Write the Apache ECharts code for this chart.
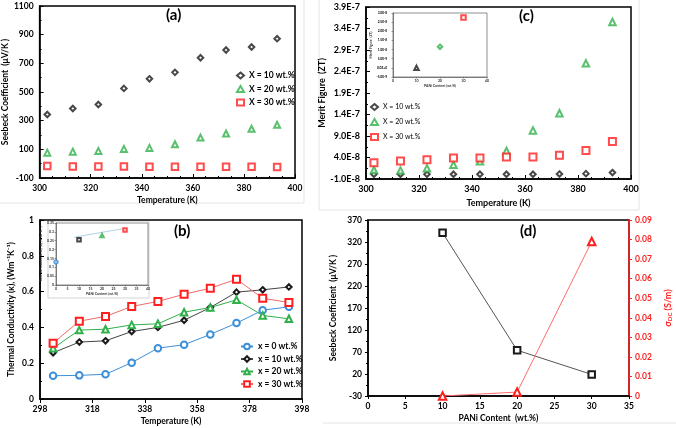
<!DOCTYPE html>
<html>
<head>
<meta charset="utf-8">
<script src="https://cdn.jsdelivr.net/npm/echarts@6/dist/echarts.min.js"></script>
<style>html,body{margin:0;padding:0;background:#fff}#c{width:676px;height:428px}</style>
</head>
<body>
<div id="c"></div>
<script>
// ---------- data ----------
const temps = [303, 313, 323, 333, 343, 353, 363, 373, 383, 393];
// (a) Seebeck coefficient (µV/K)
const seebeck10 = [343, 385, 413, 525, 592, 637, 739, 793, 814, 872];
const seebeck20 = [77, 84, 89, 103, 110, 135, 182, 210, 243, 271];
const seebeck30 = [-16, -20, -20, -20, -21, -21, -21, -22, -22, -24];
// (c) Merit figure ZT, in units of 1E-8
const zt10 = [0.1, 0.1, 0.1, 0.1, 0.1, 0.1, 0.1, 0.15, 0.25, 0.5];
const zt20 = [1.1, 1.0, 1.5, 2.3, 3.1, 5.5, 10.3, 14.3, 25.9, 35.5];
const zt30 = [2.8, 3.2, 3.5, 3.9, 3.9, 4.1, 4.1, 4.5, 5.65, 7.7];
// (c) inset: ZT vs PANi content (units 1E-8)
const ztInsetX = [10, 20, 30];
const ztInsetY = [0.0, 1.15, 2.75];
// (b) thermal conductivity
const k0 = [0.130, 0.132, 0.138, 0.203, 0.284, 0.303, 0.361, 0.424, 0.496, 0.515];
const k10 = [0.258, 0.318, 0.325, 0.377, 0.400, 0.440, 0.511, 0.597, 0.610, 0.626];
const k20 = [0.284, 0.385, 0.390, 0.414, 0.420, 0.485, 0.511, 0.554, 0.467, 0.448];
const k30 = [0.312, 0.435, 0.461, 0.517, 0.545, 0.585, 0.619, 0.669, 0.563, 0.539];
// (b) inset: kappa vs PANi content
const kInsetX = [0, 10, 20, 30];
const kInsetY = [0.13, 0.255, 0.28, 0.31];
const kFitX = [8, 30];
const kFitY = [0.27, 0.32];
// (d) Seebeck and sigma_DC vs PANi content
const pani = [10, 20, 30];
const seebeckPani = [341, 74, 19];
const sigmaDC = [0, 0.002, 0.079];

// ---------- styles ----------
const FONT = 'Lato';
const BLACK = '#1a1a1a', GREEN = '#2fb04a', RED = '#ff1f1f', BLUE = '#3d8fd9';
const zip = (xs, ys) => xs.map((x, i) => [x, ys[i]]);
const expFmt = v => (v * 1e-8).toExponential(1).toUpperCase();
const plainFmt = v => String(v);

function axis(grid, o) {
  const a = {
    gridIndex: grid, type: 'value',
    axisLine: {show: true, onZero: false, lineStyle: {color: '#000', width: 1.5}},
    axisTick: {show: true, inside: true, length: 4, lineStyle: {color: '#000', width: 1}},
    minorTick: {show: true, splitNumber: 2, length: 2, lineStyle: {color: '#000'}},
    splitLine: {show: false},
    axisLabel: {color: '#000', fontSize: 8.5, fontWeight: 'bold', fontFamily: FONT, margin: 6, formatter: plainFmt},
    nameLocation: 'middle',
    nameTextStyle: {color: '#000', fontSize: 8.5, fontWeight: 'bold', fontFamily: FONT}
  };
  for (const k in o) {
    if (a[k] && typeof a[k] === 'object' && typeof o[k] === 'object' && !Array.isArray(o[k])) a[k] = Object.assign({}, a[k], o[k]);
    else a[k] = o[k];
  }
  return a;
}
function tiny(grid, o) {
  return axis(grid, Object.assign({
    axisLine: {show: true, onZero: false, lineStyle: {color: '#444', width: 0.6}},
    axisTick: {show: true, inside: false, length: 1.5, lineStyle: {color: '#444', width: 0.5}},
    minorTick: {show: false},
    axisLabel: {color: '#333', fontSize: 3.5, fontFamily: FONT, margin: 2, formatter: plainFmt},
    nameTextStyle: {color: '#333', fontSize: 3.5, fontFamily: FONT}
  }, o));
}
const scat = (name, xi, yi, data, symbol, color, size) => ({
  name, type: 'scatter', xAxisIndex: xi, yAxisIndex: yi, data, symbol, symbolSize: size,
  itemStyle: {color, borderColor: color, borderWidth: 1.2}, z: 3
});
const lin = (name, xi, yi, data, symbol, color, size, lineColor) => ({
  name, type: 'line', xAxisIndex: xi, yAxisIndex: yi, data, symbol, symbolSize: size,
  showAllSymbol: true,
  lineStyle: {color: lineColor || color, width: 1},
  itemStyle: {color, borderColor: color, borderWidth: 1.2}, z: 3
});

const frame = '#e4e4e4';
const option = {
  animation: false,
  backgroundColor: '#fff',
  textStyle: {fontFamily: FONT},
  title: [
    {text: '(a)', left: 166, top: 8, padding: 0, textStyle: {fontSize: 15, fontWeight: 'bold', color: '#000', fontFamily: FONT}},
    {text: '(c)', left: 519, top: 9, padding: 0, textStyle: {fontSize: 15, fontWeight: 'bold', color: '#000', fontFamily: FONT}},
    {text: '(b)', left: 174, top: 224, padding: 0, textStyle: {fontSize: 15, fontWeight: 'bold', color: '#000', fontFamily: FONT}},
    {text: '(d)', left: 520, top: 224, padding: 0, textStyle: {fontSize: 15, fontWeight: 'bold', color: '#000', fontFamily: FONT}}
  ],
  graphic: [
    {type: 'line', shape: {x1: 304, y1: 0, x2: 304, y2: 203}, style: {stroke: frame, lineWidth: 1}, z: -1},
    {type: 'line', shape: {x1: 0, y1: 203, x2: 304, y2: 203}, style: {stroke: frame, lineWidth: 1}, z: -1},
    {type: 'line', shape: {x1: 319, y1: 0, x2: 319, y2: 210}, style: {stroke: frame, lineWidth: 1}, z: -1},
    {type: 'line', shape: {x1: 319, y1: 210, x2: 639, y2: 210}, style: {stroke: frame, lineWidth: 1}, z: -1},
    {type: 'line', shape: {x1: 639, y1: 0, x2: 639, y2: 210}, style: {stroke: frame, lineWidth: 1}, z: -1},
    {type: 'line', shape: {x1: 323, y1: 423, x2: 676, y2: 423}, style: {stroke: frame, lineWidth: 1}, z: -1},
    {type: 'rect', shape: {x: 48, y: 221, width: 101, height: 77}, style: {fill: 'none', stroke: '#c8c8c8', lineWidth: 0.8}, z: -1}
  ],
  legend: [
    {data: ['X = 10 wt.%', 'X = 20 wt.%', 'X = 30 wt.%'], left: 236, top: 71, orient: 'vertical',
     itemWidth: 7, itemHeight: 6, itemGap: 4.5, textStyle: {fontSize: 8.5, fontWeight: 'bold', color: '#000', fontFamily: FONT}, padding: 0},
    {data: ['X = 10 wt.%', 'X = 20 wt.%', 'X = 30 wt.%'], left: 370, top: 103, orient: 'vertical',
     itemWidth: 7, itemHeight: 6, itemGap: 7, textStyle: {fontSize: 7, color: '#000', fontFamily: FONT}, padding: 0},
    {data: ['x = 0 wt.%', 'x = 10 wt.%', 'x = 20 wt.%', 'x = 30 wt.%'], left: 240, top: 342, orient: 'vertical',
     itemWidth: 12, itemHeight: 7, itemGap: 3.5, textStyle: {fontSize: 8.5, fontWeight: 'bold', color: '#000', fontFamily: FONT}, padding: 0}
  ],
  grid: [
    {left: 39, top: 6, width: 256, height: 172, show: true, borderColor: '#000', borderWidth: 1.5, backgroundColor: 'transparent'},
    {left: 366, top: 7, width: 265, height: 172, show: true, borderColor: '#000', borderWidth: 1.5, backgroundColor: 'transparent'},
    {left: 40, top: 220, width: 262, height: 179, show: true, borderColor: '#000', borderWidth: 1.5, backgroundColor: 'transparent'},
    {left: 368, top: 220, width: 261, height: 176, show: true, borderColor: '#000', borderWidth: 1.5, backgroundColor: 'transparent'},
    {left: 56, top: 223, width: 92, height: 62, show: true, borderColor: '#444', borderWidth: 0.6, backgroundColor: 'transparent'},
    {left: 393, top: 13, width: 94, height: 64, show: true, borderColor: '#444', borderWidth: 0.6, backgroundColor: 'transparent'}
  ],
  xAxis: [
    axis(0, {min: 300, max: 400, interval: 20, name: 'Temperature (K)', nameGap: 18, minorTick: {splitNumber: 4}}),
    axis(1, {min: 300, max: 400, interval: 20, name: 'Temperature (K)', nameGap: 20, minorTick: {splitNumber: 4},
             axisLabel: {fontSize: 9}, nameTextStyle: {fontSize: 9}}),
    axis(2, {min: 298, max: 398, interval: 20, name: 'Temperature (K)', nameGap: 18, axisTick: {inside: false, length: 4}, minorTick: {show: false}}),
    axis(3, {min: 0, max: 35, interval: 5, name: 'PANi Content  (wt.%)', nameGap: 18, axisTick: {inside: false, length: 3}, minorTick: {show: false}}),
    tiny(4, {min: 0, max: 40, interval: 5, name: 'PANi Content (wt.%)', nameGap: 6}),
    tiny(5, {min: 0, max: 40, interval: 10, name: 'PANi Content (wt.%)', nameGap: 6})
  ],
  yAxis: [
    axis(0, {min: -100, max: 1100, interval: 200, name: 'Seebeck Coefficient  (\u03bcV/K )', nameGap: 24}),
    axis(1, {min: -1, max: 39, interval: 5, name: 'Merit Figure  (ZT)', nameGap: 36, axisLabel: {formatter: expFmt, fontSize: 9},
             nameTextStyle: {fontSize: 9}, minorTick: {splitNumber: 2}}),
    axis(2, {min: 0, max: 1, interval: 0.2, name: 'Thermal Conductivity (\u03ba), (Wm\u207b\u00b9K\u207b\u00b9)', nameGap: 24, minorTick: {splitNumber: 2}}),
    axis(3, {min: -30, max: 370, interval: 50, name: 'Seebeck Coefficient  (\u03bcV/K )', nameGap: 30,
             axisTick: {inside: false, length: 3}, minorTick: {splitNumber: 2, length: 2}}),
    axis(3, {min: 0, max: 0.09, interval: 0.01, position: 'right', nameRotate: 90, nameGap: 34,
             name: '{s|\u03c3}{sub|DC}{s| (S/m)}',
             axisLine: {lineStyle: {color: RED, width: 1.5}},
             axisTick: {inside: false, length: 3, lineStyle: {color: RED}}, minorTick: {show: false},
             axisLabel: {color: RED},
             nameTextStyle: {color: RED, rich: {s: {color: RED, fontSize: 9, fontWeight: 'bold', fontFamily: FONT},
                                               sub: {color: RED, fontSize: 6, fontWeight: 'bold', fontFamily: FONT, verticalAlign: 'bottom', padding: [4, 0, 0, 0]}}}}),
    tiny(4, {min: 0, max: 0.35, interval: 0.05, name: 'Thermal Conductivity (\u03ba), (Wm\u207b\u00b9K\u207b\u00b9)', nameGap: 8}),
    tiny(5, {min: -0.5, max: 3.0, interval: 0.5, name: 'Merit Figure  (ZT)', nameGap: 12, axisLabel: {formatter: expFmt, fontSize: 3.2}})
  ],
  series: [
    // (a)
    scat('X = 10 wt.%', 0, 0, zip(temps, seebeck10), 'emptyDiamond', BLACK, 5.5),
    scat('X = 20 wt.%', 0, 0, zip(temps, seebeck20), 'emptyTriangle', GREEN, 6),
    scat('X = 30 wt.%', 0, 0, zip(temps, seebeck30), 'emptyRect', RED, 6.5),
    // (c)
    scat('X = 10 wt.%', 1, 1, zip(temps, zt10), 'emptyDiamond', BLACK, 5.5),
    scat('X = 20 wt.%', 1, 1, zip(temps, zt20), 'emptyTriangle', GREEN, 6.5),
    scat('X = 30 wt.%', 1, 1, zip(temps, zt30), 'emptyRect', RED, 7),
    // (b)
    lin('x = 0 wt.%', 2, 2, zip(temps, k0), 'emptyCircle', BLUE, 6.5),
    lin('x = 10 wt.%', 2, 2, zip(temps, k10), 'emptyDiamond', BLACK, 5.5, '#444'),
    lin('x = 20 wt.%', 2, 2, zip(temps, k20), 'emptyTriangle', GREEN, 6.5),
    lin('x = 30 wt.%', 2, 2, zip(temps, k30), 'emptyRect', RED, 7, '#f06a6a'),
    // (d)
    lin('Seebeck', 3, 3, zip(pani, seebeckPani), 'emptyRect', BLACK, 6.5, '#555'),
    lin('sigmaDC', 3, 4, zip(pani, sigmaDC), 'emptyTriangle', RED, 7.5, '#ff6b6b'),
    // (b) inset
    {name: 'fit', type: 'line', xAxisIndex: 4, yAxisIndex: 5, data: zip(kFitX, kFitY), symbol: 'none',
     lineStyle: {color: '#9cc8dc', width: 0.8}, z: 4},
    {name: 'kInset', type: 'scatter', xAxisIndex: 4, yAxisIndex: 5, z: 5,
     data: kInsetX.map((x, i) => ({value: [x, kInsetY[i]],
       symbol: ['emptyCircle', 'emptyRect', 'emptyTriangle', 'emptyRect'][i],
       itemStyle: {color: [BLUE, BLACK, GREEN, RED][i], borderColor: [BLUE, BLACK, GREEN, RED][i], borderWidth: 0.6}})),
     symbolSize: 3.5},
    // (c) inset
    {name: 'ztInset', type: 'scatter', xAxisIndex: 5, yAxisIndex: 6, z: 5,
     data: ztInsetX.map((x, i) => ({value: [x, ztInsetY[i]],
       symbol: ['emptyTriangle', 'emptyDiamond', 'emptyRect'][i],
       itemStyle: {color: [BLACK, GREEN, RED][i], borderColor: [BLACK, GREEN, RED][i], borderWidth: 0.7}})),
     symbolSize: 4.5}
  ]
};
const chart = echarts.init(document.getElementById('c'), null, {renderer: 'canvas'});
chart.setOption(option);
</script>
</body>
</html>
